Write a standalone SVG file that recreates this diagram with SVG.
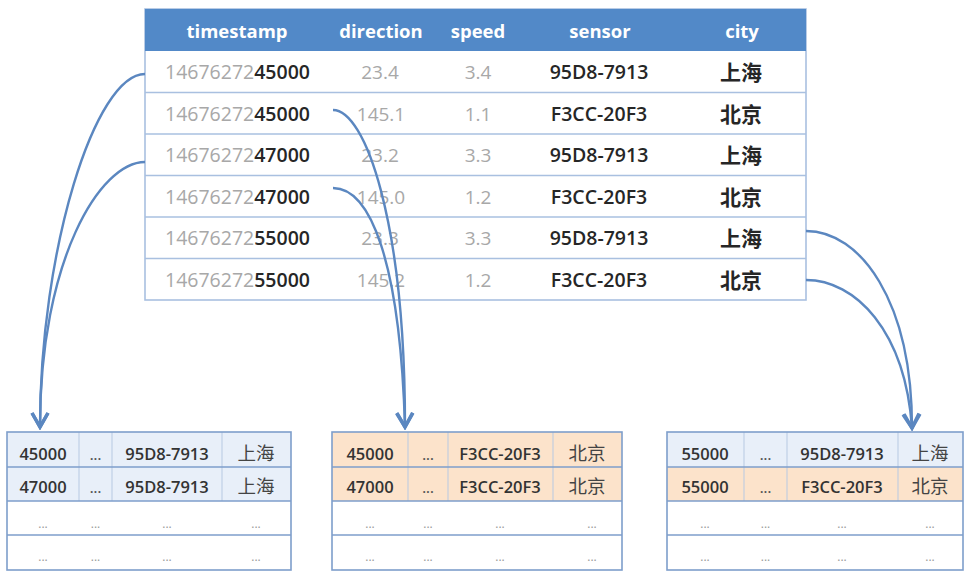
<svg xmlns="http://www.w3.org/2000/svg" width="972" height="578" viewBox="0 0 972 578">
<defs>
<style>
.bg{fill:#ffffff}
.hdr{fill:#5289C8}
.htxt{font-family:"Open Sans","Liberation Sans",sans-serif;font-size:18.5px;font-weight:700;fill:#ffffff;text-anchor:middle}
.grid{stroke:#A9C0E0;stroke-width:1.6;fill:none}
.frame{stroke:#A9C0E0;stroke-width:1.6;fill:#ffffff}
.ts{font-family:"Open Sans","Liberation Sans",sans-serif;font-size:19.5px;fill:#A8A8A8}
.tsb{fill:#262626;font-weight:600}
.num{font-family:"Open Sans","Liberation Sans",sans-serif;font-size:19px;fill:#A8A8A8;text-anchor:middle}
.sen{font-family:"Open Sans","Liberation Sans",sans-serif;font-size:19.5px;font-weight:600;fill:#262626;text-anchor:middle}
.cn{font-family:"Noto Sans CJK SC","Noto Sans",sans-serif;font-size:21px;font-weight:700;fill:#262626;text-anchor:middle}
.tframe{stroke:#7E9ECB;stroke-width:1.6;fill:none}
.tline{stroke:#7E9ECB;stroke-width:1.4}
.vline{stroke:#B7C9E2;stroke-width:1}
.blue{fill:#E8EFF9}
.orange{fill:#FCE3CB}
.bt{font-family:"Open Sans","Liberation Sans",sans-serif;font-size:16.5px;font-weight:600;fill:#333333;text-anchor:middle}
.bcn{font-family:"Noto Sans CJK SC","Noto Sans",sans-serif;font-size:18.5px;fill:#444444;text-anchor:middle}
.dots{font-family:"Open Sans","Liberation Sans",sans-serif;font-size:14px;font-weight:600;fill:#555555;text-anchor:middle}
.edots{font-family:"Open Sans","Liberation Sans",sans-serif;font-size:12px;fill:#999999;text-anchor:middle}
.conn{fill:none;stroke:#5B87C0;stroke-width:2.4}
</style>
<marker id="arr" viewBox="0 0 20 20" refX="17" refY="10" markerWidth="20" markerHeight="20" markerUnits="userSpaceOnUse" orient="auto">
<path d="M3,2 L17,10 L3,18" fill="none" stroke="#5B87C0" stroke-width="3.4" stroke-linejoin="miter"/>
</marker>
</defs>

<g id="source-table">
<rect class="frame" x="145" y="9" width="661" height="291"/>
<rect class="hdr" x="145" y="9" width="661" height="42"/>
<text class="htxt" x="237" y="38">timestamp</text>
<text class="htxt" x="381" y="38">direction</text>
<text class="htxt" x="478" y="38">speed</text>
<text class="htxt" x="600" y="38">sensor</text>
<text class="htxt" x="742" y="38">city</text>
<line class="grid" x1="145" y1="92.5" x2="806" y2="92.5"/>
<line class="grid" x1="145" y1="134" x2="806" y2="134"/>
<line class="grid" x1="145" y1="175.5" x2="806" y2="175.5"/>
<line class="grid" x1="145" y1="217" x2="806" y2="217"/>
<line class="grid" x1="145" y1="258.5" x2="806" y2="258.5"/>

<text class="ts" x="165" y="79">14676272<tspan class="tsb">45000</tspan></text>
<text class="num" x="380" y="79">23.4</text>
<text class="num" x="478" y="79">3.4</text>
<text class="sen" x="599" y="79">95D8-7913</text>
<text class="cn" x="741" y="80">上海</text>

<text class="ts" x="165" y="120.5">14676272<tspan class="tsb">45000</tspan></text>
<text class="num" x="381" y="120.5">145.1</text>
<text class="num" x="478" y="120.5">1.1</text>
<text class="sen" x="599" y="120.5">F3CC-20F3</text>
<text class="cn" x="741" y="121.5">北京</text>

<text class="ts" x="165" y="162">14676272<tspan class="tsb">47000</tspan></text>
<text class="num" x="380" y="162">23.2</text>
<text class="num" x="478" y="162">3.3</text>
<text class="sen" x="599" y="162">95D8-7913</text>
<text class="cn" x="741" y="163">上海</text>

<text class="ts" x="165" y="203.5">14676272<tspan class="tsb">47000</tspan></text>
<text class="num" x="381" y="203.5">145.0</text>
<text class="num" x="478" y="203.5">1.2</text>
<text class="sen" x="599" y="203.5">F3CC-20F3</text>
<text class="cn" x="741" y="204.5">北京</text>

<text class="ts" x="165" y="245">14676272<tspan class="tsb">55000</tspan></text>
<text class="num" x="380" y="245">23.3</text>
<text class="num" x="478" y="245">3.3</text>
<text class="sen" x="599" y="245">95D8-7913</text>
<text class="cn" x="741" y="246">上海</text>

<text class="ts" x="165" y="286.5">14676272<tspan class="tsb">55000</tspan></text>
<text class="num" x="381" y="286.5">145.2</text>
<text class="num" x="478" y="286.5">1.2</text>
<text class="sen" x="599" y="286.5">F3CC-20F3</text>
<text class="cn" x="741" y="287.5">北京</text>
</g>

<g id="table-shanghai">
<rect class="bg" x="7" y="432" width="284" height="138"/>
<rect class="blue" x="7" y="432" width="284" height="69"/>
<line class="vline" x1="79" y1="432" x2="79" y2="501"/>
<line class="vline" x1="112" y1="432" x2="112" y2="501"/>
<line class="vline" x1="222" y1="432" x2="222" y2="501"/>
<line class="tline" x1="7" y1="467" x2="291" y2="467"/>
<line class="tline" x1="7" y1="501" x2="291" y2="501"/>
<line class="tline" x1="7" y1="535" x2="291" y2="535"/>
<rect class="tframe" x="7" y="432" width="284" height="138"/>
<text class="bt" x="43" y="460">45000</text>
<text class="dots" x="95.5" y="460">...</text>
<text class="bt" x="167" y="460">95D8-7913</text>
<text class="bcn" x="256" y="460">上海</text>
<text class="bt" x="43" y="493">47000</text>
<text class="dots" x="95.5" y="493">...</text>
<text class="bt" x="167" y="493">95D8-7913</text>
<text class="bcn" x="256" y="493">上海</text>
<text class="edots" x="43" y="528">...</text>
<text class="edots" x="95.5" y="528">...</text>
<text class="edots" x="167" y="528">...</text>
<text class="edots" x="256" y="528">...</text>
<text class="edots" x="43" y="561">...</text>
<text class="edots" x="95.5" y="561">...</text>
<text class="edots" x="167" y="561">...</text>
<text class="edots" x="256" y="561">...</text>
</g>

<g id="table-beijing">
<rect class="bg" x="332" y="432" width="290" height="138"/>
<rect class="orange" x="332" y="432" width="290" height="69"/>
<line class="vline" x1="408" y1="432" x2="408" y2="501"/>
<line class="vline" x1="448" y1="432" x2="448" y2="501"/>
<line class="vline" x1="553" y1="432" x2="553" y2="501"/>
<line class="tline" x1="332" y1="467" x2="622" y2="467"/>
<line class="tline" x1="332" y1="501" x2="622" y2="501"/>
<line class="tline" x1="332" y1="535" x2="622" y2="535"/>
<rect class="tframe" x="332" y="432" width="290" height="138"/>
<text class="bt" x="370" y="460">45000</text>
<text class="dots" x="428" y="460">...</text>
<text class="bt" x="500" y="460">F3CC-20F3</text>
<text class="bcn" x="587" y="460">北京</text>
<text class="bt" x="370" y="493">47000</text>
<text class="dots" x="428" y="493">...</text>
<text class="bt" x="500" y="493">F3CC-20F3</text>
<text class="bcn" x="587" y="493">北京</text>
<text class="edots" x="370" y="528">...</text>
<text class="edots" x="428" y="528">...</text>
<text class="edots" x="500" y="528">...</text>
<text class="edots" x="592" y="528">...</text>
<text class="edots" x="370" y="561">...</text>
<text class="edots" x="428" y="561">...</text>
<text class="edots" x="500" y="561">...</text>
<text class="edots" x="592" y="561">...</text>
</g>

<g id="table-55000">
<rect class="bg" x="667" y="432" width="296" height="138"/>
<rect class="blue" x="667" y="432" width="296" height="35"/>
<rect class="orange" x="667" y="467" width="296" height="34"/>
<line class="vline" x1="744" y1="432" x2="744" y2="501"/>
<line class="vline" x1="787" y1="432" x2="787" y2="501"/>
<line class="vline" x1="898" y1="432" x2="898" y2="501"/>
<line class="tline" x1="667" y1="467" x2="963" y2="467"/>
<line class="tline" x1="667" y1="501" x2="963" y2="501"/>
<line class="tline" x1="667" y1="535" x2="963" y2="535"/>
<rect class="tframe" x="667" y="432" width="296" height="138"/>
<text class="bt" x="705" y="460">55000</text>
<text class="dots" x="765.5" y="460">...</text>
<text class="bt" x="842" y="460">95D8-7913</text>
<text class="bcn" x="930" y="460">上海</text>
<text class="bt" x="705" y="493">55000</text>
<text class="dots" x="765.5" y="493">...</text>
<text class="bt" x="842" y="493">F3CC-20F3</text>
<text class="bcn" x="930" y="493">北京</text>
<text class="edots" x="705" y="528">...</text>
<text class="edots" x="765.5" y="528">...</text>
<text class="edots" x="842" y="528">...</text>
<text class="edots" x="930" y="528">...</text>
<text class="edots" x="705" y="561">...</text>
<text class="edots" x="765.5" y="561">...</text>
<text class="edots" x="842" y="561">...</text>
<text class="edots" x="930" y="561">...</text>
</g>

<g id="connectors">
<path class="conn" d="M145,74 C95,74 40,250 40,427" marker-end="url(#arr)"/>
<path class="conn" d="M145,162 C100,162 40,260 40,427" marker-end="url(#arr)"/>
<path class="conn" d="M333,110 C365,110 405,220 405,427" marker-end="url(#arr)"/>
<path class="conn" d="M333,188 C370,188 400,260 405,427" marker-end="url(#arr)"/>
<path class="conn" d="M806,231 C860,231 912,300 912,428" marker-end="url(#arr)"/>
<path class="conn" d="M806,280 C855,280 905,330 912,428" marker-end="url(#arr)"/>
</g>
</svg>
